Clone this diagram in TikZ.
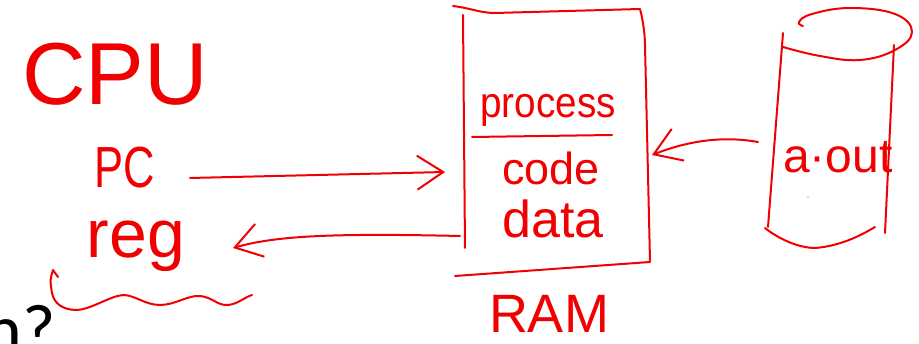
\documentclass[tikz,border=0pt]{standalone}
\usepackage{fontspec}
\setmainfont{Liberation Sans}
\newfontfamily\slidefont{Carlito}
\usetikzlibrary{arrows.meta}
\definecolor{ink}{RGB}{240,0,0}

\begin{document}
\begin{tikzpicture}[x=1pt,y=-1pt,
  pen/.style={draw=ink, line width=2pt, line cap=round, line join=round},
  hand/.style={text=ink, inner sep=0pt, anchor=base},
  arr/.style={pen, -{Straight Barb[length=26pt,width=34pt,line width=2pt]}}]
\useasboundingbox (0,0) rectangle (919,344);

% leftover slide text at the lower left corner
\node[anchor=base east, inner sep=0pt, font=\slidefont\fontsize{72}{72}\selectfont] (slide) at (56,355) {n?};

% CPU side
\node[hand, font=\fontsize{88}{88}\selectfont] (cpu) at (115,105) {CPU};
\node[hand, font=\fontsize{58}{58}\selectfont] (pc) at (125,188) {\scalebox{0.75}[1]{PC}};
\node[hand, font=\fontsize{68}{68}\selectfont] (reg) at (136,258) {reg};

% wavy brace under the registers
\draw[pen] (58,277) -- (53,270) .. controls (50,280) .. (52,293)
  .. controls (54,303) and (62,310) .. (77,310)
  .. controls (92,309) and (110,296) .. (123,295)
  .. controls (135,295) and (145,305) .. (160,305)
  .. controls (175,305) and (188,295) .. (200,296)
  .. controls (212,297) and (218,306) .. (228,305)
  .. controls (238,304) and (245,297) .. (252,295);

% RAM box
\draw[pen] (453,6) .. controls (470,8) and (480,13) .. (495,13) -- (640,9)
  .. controls (643,20) and (645,35) .. (645,45) -- (650,261);
\draw[pen] (463,15) -- (465,248);
\draw[pen] (455,276) -- (650,262);
\node[hand, font=\fontsize{43}{43}\selectfont] (process) at (548,118) {\scalebox{0.9}[1]{process}};
\draw[pen] (472,137) -- (612,135);
\node[hand, font=\fontsize{45}{45}\selectfont] (code) at (551,185) {code};
\node[hand, font=\fontsize{52}{52}\selectfont] (data) at (553,238) {data};
\node[hand, font=\fontsize{54}{54}\selectfont] (ram) at (549,333) {RAM};

% disk holding the executable
\draw[pen] plot[smooth, tension=0.7] coordinates
  {(783,47) (820,56) (860,60) (895,50) (912,32) (895,14) (850,8) (812,14) (799,22) (803,26)};
\draw[pen] (783,33) -- (768,227);
\draw[pen] (894,45) -- (885,233);
\draw[pen] (765,228) .. controls (780,240) and (800,248) .. (815,248)
  .. controls (840,246) and (860,236) .. (875,227);
\fill[ink] (808,197) circle (0.6pt);
\node[hand, font=\fontsize{48}{48}\selectfont] (aout) at (838,173) {a·out};

% connector end points
\coordinate (pcout) at (190,178);
\coordinate (ramin) at (445,172);
\coordinate (ramout) at (460,236);
\coordinate (regin) at (233,248);
\coordinate (diskout) at (758,142);
\coordinate (ramright) at (652,155);

% loading and transfers
\draw[arr] (pcout) -- (ramin);
\draw[arr] (ramout) .. controls (330,233) and (275,236) .. (regin);
\draw[arr] (diskout) .. controls (725,136) and (690,140) .. (ramright);
\end{tikzpicture}
\end{document}
